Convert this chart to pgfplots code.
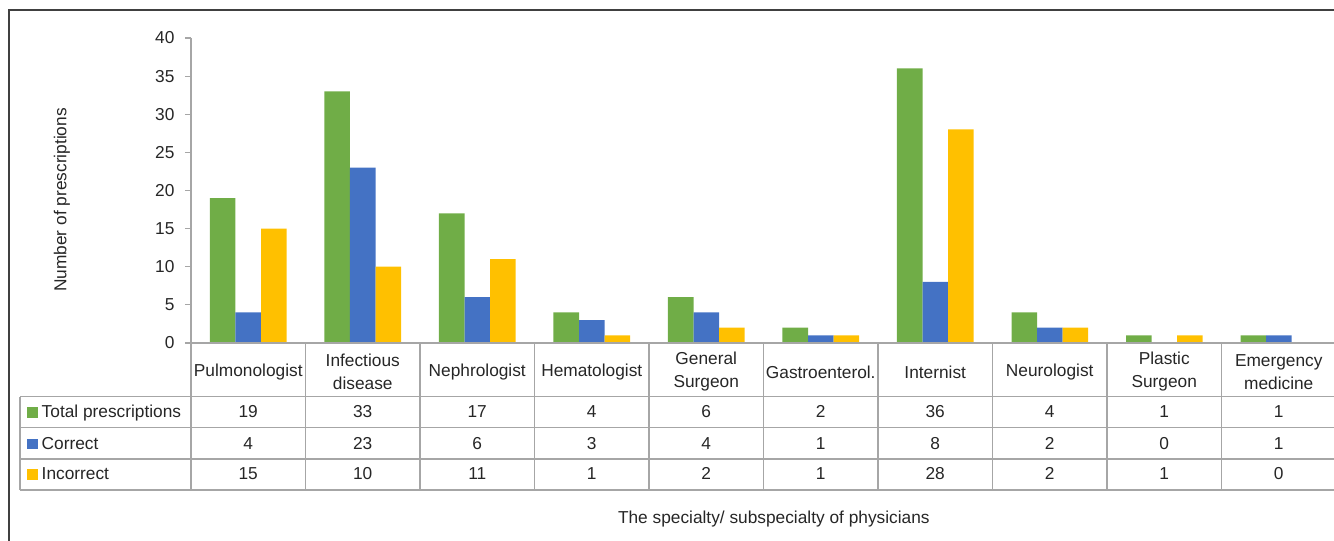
\documentclass[border=0pt]{standalone}
\usepackage{pgfplots}
\usepackage{pgfplotstable}
\pgfplotsset{compat=1.18}
\usepackage{fontspec}
\setmainfont{Liberation Sans}

\definecolor{cgreen}{HTML}{70AD47}
\definecolor{cblue}{HTML}{4472C4}
\definecolor{cyellow}{HTML}{FFC000}
\definecolor{cgrid}{HTML}{A6A6A6}
\definecolor{ctext}{HTML}{262626}
\newcommand{\chartfont}{\fontsize{17.3}{23}\selectfont}

% one row per specialty, in the order of the x axis
\pgfplotstableread{
total correct incorrect
19 4 15
33 23 10
17 6 11
4 3 1
6 4 2
2 1 1
36 8 28
4 2 2
1 0 1
1 1 0
}\prescriptions

\begin{document}
\begin{tikzpicture}[x=1pt,y=1pt]
\useasboundingbox (0,0) rectangle (1334,541);
\clip (0,0) rectangle (1334,541);
\draw[line width=1.5pt, black!75] (9,0) -- (9,531) -- (1334,531);

\begin{axis}[
    at={(191pt,198pt)}, anchor=south west,
    scale only axis, width=1145pt, height=305pt,
    xmin=0, xmax=10, ymin=0, ymax=40,
    clip=false,
    axis line style={draw=none},
    xtick={0.5,1.5,2.5,3.5,4.5,5.5,6.5,7.5,8.5,9.5},
    xticklabels={Pulmonologist, {Infectious\\disease}, Nephrologist, Hematologist,
        {General\\Surgeon}, Gastroenterol., Internist, Neurologist,
        {Plastic\\Surgeon}, {Emergency\\medicine}},
    xtick style={draw=none},
    xticklabel style={align=center, anchor=center, yshift=-23pt, font=\chartfont, text=ctext},
    ytick={0,5,...,40},
    ytick pos=left,
    tick align=outside,
    major tick length=6pt,
    ytick style={cgrid, line width=1.2pt},
    yticklabel style={font=\chartfont, text=ctext, xshift=-7pt},
    /pgf/number format/assume math mode=true,
    ylabel={Number of prescriptions},
    every axis y label/.style={at={(rel axis cs:-0.11266,0.469)}, rotate=90, anchor=center, font=\chartfont, text=ctext},
    xlabel={The specialty/ subspecialty of physicians},
    every axis x label/.style={at={(rel axis cs:0.509,0)}, anchor=center, yshift=-176pt, font=\chartfont, text=ctext},
]

\addplot[ybar, bar width=25.5pt, bar shift=-25.5pt, fill=cgreen, draw=none]
    table[x expr=\coordindex+0.5, y=total] {\prescriptions};
\addplot[ybar, bar width=25.5pt, bar shift=0pt, fill=cblue, draw=none]
    table[x expr=\coordindex+0.5, y=correct] {\prescriptions};
\addplot[ybar, bar width=25.5pt, bar shift=25.5pt, fill=cyellow, draw=none]
    table[x expr=\coordindex+0.5, y=incorrect] {\prescriptions};

% data table under the chart
\pgfplotsset{tablerow/.style={draw=none, mark=none, forget plot,
    nodes near coords, point meta=explicit symbolic,
    nodes near coords align={anchor=base},
    every node near coord/.append style={font=\chartfont, text=ctext, inner sep=0pt}}}
\addplot[tablerow] table[x expr=\coordindex+0.5, y expr=-9.836, meta=total] {\prescriptions};
\addplot[tablerow] table[x expr=\coordindex+0.5, y expr=-13.902, meta=correct] {\prescriptions};
\addplot[tablerow] table[x expr=\coordindex+0.5, y expr=-17.967, meta=incorrect] {\prescriptions};

\draw[cgrid, line width=1.2pt] (axis cs:0,40) -- (axis cs:0,-19.28);
\draw[cgrid, line width=1.2pt] (axis cs:0,0) -- (axis cs:10,0);
\pgfplotsinvokeforeach{1,...,10}{
    \draw[cgrid, line width=1.2pt] (axis cs:#1,0) -- (axis cs:#1,-19.28);
}
\pgfplotsinvokeforeach{-7.04,-11.11,-15.22,-19.28}{
    \draw[cgrid, line width=1.2pt] (axis cs:-1.493,#1) -- (axis cs:10,#1);
}
\draw[cgrid, line width=1.2pt] (axis cs:-1.493,-7.04) -- (axis cs:-1.493,-19.28);

\node[anchor=base west, inner sep=0pt, font=\chartfont, text=ctext] at (axis cs:-1.432,-9.836)
    {\textcolor{cgreen}{\rule{10.5pt}{10.5pt}}\hspace{4pt}Total prescriptions};
\node[anchor=base west, inner sep=0pt, font=\chartfont, text=ctext] at (axis cs:-1.432,-13.902)
    {\textcolor{cblue}{\rule{10.5pt}{10.5pt}}\hspace{4pt}Correct};
\node[anchor=base west, inner sep=0pt, font=\chartfont, text=ctext] at (axis cs:-1.432,-17.967)
    {\textcolor{cyellow}{\rule{10.5pt}{10.5pt}}\hspace{4pt}Incorrect};
\end{axis}
\end{tikzpicture}
\end{document}
